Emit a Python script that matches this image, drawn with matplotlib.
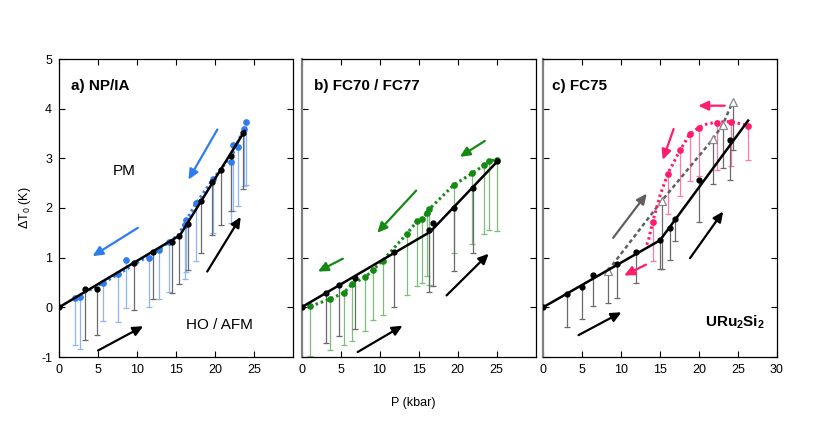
import matplotlib
matplotlib.use("Agg")
import matplotlib.pyplot as plt
import numpy as np

plt.rcParams['font.family'] = ['Liberation Sans', 'DejaVu Sans']
plt.rcParams['mathtext.fontset'] = 'custom'
plt.rcParams['mathtext.rm'] = 'Liberation Sans'
plt.rcParams['mathtext.bf'] = 'Liberation Sans:bold'
plt.rcParams['axes.unicode_minus'] = False

# ---------------- Panel a) NP/IA ----------------
a_black_x = [0, 3.3, 4.9, 9.6, 12.1, 14.5, 15.4, 16.5, 18.2, 19.6, 20.8, 22.1, 23.6]
a_black_y = [0, 0.36, 0.36, 0.89, 1.11, 1.32, 1.44, 1.68, 2.15, 2.52, 2.77, 3.04, 3.51]
a_black_low = [None, -0.65, -0.55, -0.05, 0.17, 0.29, 0.46, 0.76, 1.09, 1.46, 1.65, 1.93, 2.38]
a_fit_x = [0, 15.5, 23.8]
a_fit_y = [0, 1.45, 3.55]
a_blue_x = [2.0, 2.66, 5.65, 7.6, 8.56, 11.55, 12.8, 14.1, 16.1, 16.3, 17.6, 19.8, 22.1, 22.3, 23.0, 23.7, 24.0]
a_blue_y = [0.19, 0.2, 0.49, 0.67, 0.96, 0.99, 1.16, 1.32, 1.65, 1.75, 2.1, 2.59, 2.93, 3.26, 3.22, 3.6, 3.74]
a_blue_low = [-0.75, -0.84, -0.28, -0.3, -0.01, 0.0, 0.17, 0.3, 0.58, 0.72, 0.94, 1.5, 1.7, 1.93, 2.05, 2.45, 2.47]
a_blue_line_x = [2.0, 5.65, 7.6, 12.8, 14.1, 15.3, 16.3, 17.6, 19.8, 22.3, 23.7]
a_blue_line_y = [0.19, 0.49, 0.67, 1.16, 1.32, 1.45, 1.75, 2.1, 2.59, 3.1, 3.6]

# ---------------- Panel b) FC70 / FC77 ----------------
b_black_x = [0, 3.2, 4.8, 6.8, 11.8, 16.4, 16.8, 19.5, 22.0, 25.0]
b_black_y = [0, 0.28, 0.44, 0.59, 1.11, 1.55, 1.7, 2.01, 2.4, 2.94]
b_black_low = [None, -0.72, -0.57, -0.44, 0.0, 0.31, 0.42, 0.74, 1.09, None]
b_fit_x = [0, 16.5, 25.0]
b_fit_y = [0, 1.52, 2.92]
b_green_x = [1.15, 3.7, 5.4, 6.5, 8.2, 9.2, 10.4, 13.5, 14.8, 15.4, 16.1, 16.4, 19.5, 21.9, 23.4, 24.1, 25.0]
b_green_y = [0.02, 0.17, 0.29, 0.47, 0.61, 0.76, 0.94, 1.48, 1.73, 1.78, 1.9, 1.98, 2.46, 2.7, 2.86, 2.95, 2.97]
b_green_low = [-0.97, -0.85, -0.75, -0.67, -0.47, -0.25, -0.15, 0.24, 0.42, 0.48, 0.64, 0.45, 1.09, 1.28, 1.48, 1.56, 1.54]

# ---------------- Panel c) FC75 ----------------
c_black_x = [0, 3.05, 5.0, 6.45, 9.5, 11.9, 15.05, 16.3, 16.95, 20.0, 23.95]
c_black_y = [0, 0.26, 0.41, 0.66, 0.88, 1.11, 1.36, 1.6, 1.78, 2.56, 3.36]
c_black_low = [None, -0.4, -0.23, 0.02, 0.18, 0.5, 0.77, 0.96, 1.34, 1.71, 2.57]
c_fit_x = [0, 15.0, 26.3]
c_fit_y = [0, 1.35, 3.76]
c_pink_x = [14.05, 16.0, 17.55, 18.8, 19.95, 22.3, 24.1, 26.3]
c_pink_y = [1.71, 2.69, 3.16, 3.48, 3.62, 3.72, 3.74, 3.66]
c_pink_low = [0.93, 1.87, 2.25, 2.54, 2.65, 2.77, 2.85, 2.96]
c_pink_line_x = [13.3, 13.6, 14.05, 15.0, 16.0, 17.55, 18.8, 19.95, 21.0, 22.3, 24.1, 26.3]
c_pink_line_y = [1.26, 1.4, 1.71, 2.25, 2.69, 3.16, 3.48, 3.62, 3.69, 3.73, 3.74, 3.66]
c_tri_x = [8.35, 15.25, 21.8, 23.05, 24.3]
c_tri_y = [0.74, 2.15, 3.39, 3.68, 4.13]
c_tri_low = [0.09, 0.77, 2.49, 2.8, 3.17]

x_ticks_ab = [0, 5, 10, 15, 20, 25]
x_ticks_c = [0, 5, 10, 15, 20, 25, 30]
y_ticks = [-1, 0, 1, 2, 3, 4, 5]

BLUE = '#2e7cf0'
BLUE_BAR = '#8db6f2'
GREEN = '#148a14'
GREEN_BAR = '#7cbf7c'
PINK = '#ff1b6e'
PINK_BAR = '#ff7aa6'
BLACK_BAR = '#6a6a6a'
GRAY = '#606060'
DOTS = (0, (0.8, 1.0))

fig = plt.figure(figsize=(8.3, 4.47), dpi=100)
W = 234 / 830
H = 298 / 447
B = 90 / 447
axa = fig.add_axes([59 / 830, B, W, H])
axb = fig.add_axes([301.5 / 830, B, W, H])
axc = fig.add_axes([543 / 830, B, W, H])


def bars(ax, xs, ys, lows, color, lw=0.9):
    for x, y, lo in zip(xs, ys, lows):
        if lo is None:
            continue
        ax.plot([x, x], [y, lo], color=color, lw=lw, zorder=1)
        ax.plot([x], [lo], marker='_', ms=5, mew=0.9, color=color, zorder=1)


def arrow(ax, x0, y0, x1, y1, color):
    ax.annotate('', xy=(x1, y1), xytext=(x0, y0),
                arrowprops=dict(arrowstyle='-|>,head_length=0.6,head_width=0.28',
                                color=color, lw=1.6, shrinkA=0, shrinkB=0))


for ax in (axa, axb, axc):
    ax.set_ylim(-1, 5)
    ax.set_xlim(0, 30)
    ax.set_yticks(y_ticks)
    ax.tick_params(direction='in', top=True, right=True, labelsize=9,
                   length=4, width=0.8, pad=5)
    for s in ax.spines.values():
        s.set_linewidth(0.9)

axa.set_xticks(x_ticks_ab)
axb.set_xticks(x_ticks_ab)
axc.set_xticks(x_ticks_c)
axb.set_yticklabels([])
axc.set_yticklabels([])
for ax in (axb, axc):
    ax.spines['left'].set_color('#808080')
    ax.spines['left'].set_linewidth(1.6)

# Panel a
bars(axa, a_blue_x, a_blue_y, a_blue_low, BLUE_BAR)
bars(axa, a_black_x, a_black_y, a_black_low, BLACK_BAR)
axa.plot(a_blue_line_x, a_blue_line_y, ls=DOTS, lw=2.2, color=BLUE, zorder=2)
axa.plot(a_blue_x, a_blue_y, 'o', ms=3.8, color=BLUE, zorder=3)
axa.plot(a_fit_x, a_fit_y, '-', lw=1.8, color='black', zorder=4)
axa.plot(a_black_x, a_black_y, 'o', ms=3.5, color='black', zorder=5)
arrow(axa, 10.1, 1.6, 4.3, 1.03, BLUE)
arrow(axa, 20.3, 3.58, 16.6, 2.57, BLUE)
arrow(axa, 5.0, -0.87, 10.8, -0.38, 'black')
arrow(axa, 19.0, 0.72, 23.3, 1.82, 'black')
axa.text(1.6, 4.45, 'a) NP/IA', fontsize=11, fontweight='bold', va='center')
axa.text(8.4, 2.74, 'PM', fontsize=11, ha='center', va='center')
axa.text(20.6, -0.35, 'HO / AFM', fontsize=11, ha='center', va='center')
axa.set_ylabel(r'$\Delta$T$_0$ (K)', fontsize=9, labelpad=6)

# Panel b
bars(axb, b_green_x, b_green_y, b_green_low, GREEN_BAR)
bars(axb, b_black_x, b_black_y, b_black_low, BLACK_BAR)
axb.plot(b_green_x, b_green_y, ls=DOTS, lw=2.2, color=GREEN, zorder=2)
axb.plot(b_green_x, b_green_y, 'o', ms=3.8, color=GREEN, zorder=3)
axb.plot(b_fit_x, b_fit_y, '-', lw=1.8, color='black', zorder=4)
axb.plot(b_black_x, b_black_y, 'o', ms=3.5, color='black', zorder=5)
arrow(axb, 23.5, 3.35, 20.3, 3.03, GREEN)
arrow(axb, 14.7, 2.35, 9.7, 1.5, GREEN)
arrow(axb, 5.3, 0.98, 2.1, 0.72, GREEN)
arrow(axb, 7.2, -0.9, 12.95, -0.37, 'black')
arrow(axb, 18.6, 0.24, 24.0, 1.08, 'black')
axb.text(1.6, 4.45, 'b) FC70 / FC77', fontsize=11, fontweight='bold', va='center')

# Panel c
bars(axc, c_pink_x, c_pink_y, c_pink_low, PINK_BAR)
bars(axc, c_tri_x, c_tri_y, c_tri_low, BLACK_BAR)
bars(axc, c_black_x, c_black_y, c_black_low, BLACK_BAR)
axc.plot(c_tri_x, c_tri_y, ls=(0, (1.6, 1.2)), lw=1.8, color=GRAY, zorder=2)
axc.plot(c_tri_x, c_tri_y, '^', ms=6, mfc='white', mec='#888888', mew=0.9, zorder=3)
axc.plot(c_pink_line_x, c_pink_line_y, ls=DOTS, lw=2.2, color=PINK, zorder=2)
axc.plot(c_pink_x, c_pink_y, 'o', ms=3.8, color=PINK, zorder=3)
axc.plot(c_fit_x, c_fit_y, '-', lw=1.8, color='black', zorder=4)
axc.plot(c_black_x, c_black_y, 'o', ms=3.5, color='black', zorder=5)
arrow(axc, 23.3, 4.06, 19.9, 4.06, PINK)
arrow(axc, 16.75, 3.59, 15.35, 2.97, PINK)
arrow(axc, 13.2, 0.86, 10.4, 0.64, PINK)
arrow(axc, 9.0, 1.4, 13.3, 2.29, GRAY)
arrow(axc, 4.55, -0.56, 10.05, -0.1, 'black')
arrow(axc, 18.85, 0.99, 23.1, 1.93, 'black')
axc.text(1.2, 4.45, 'c) FC75', fontsize=11, fontweight='bold', va='center')
axc.text(28.5, -0.3, r'$\mathbf{URu_2Si_2}$', fontsize=11, ha='right', va='center')

fig.text(413 / 830, 1 - 403 / 447, 'P (kbar)', fontsize=9, ha='center', va='center')

fig.savefig('out.png', dpi=100)
